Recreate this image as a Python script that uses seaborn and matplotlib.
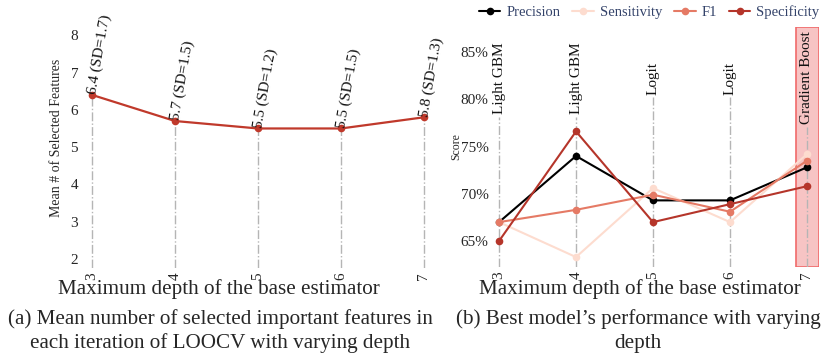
import matplotlib
matplotlib.use("Agg")
import matplotlib.pyplot as plt
import seaborn as sns
import pandas as pd

# ---- data ----
depths = [3, 4, 5, 6, 7]
mean_features = [6.4, 5.7, 5.5, 5.5, 5.8]
sd_features = [1.7, 1.5, 1.2, 1.5, 1.3]

best_models = ["Light GBM", "Light GBM", "Logit", "Logit", "Gradient Boost"]
precision = [67.0, 74.0, 69.3, 69.3, 72.8]
sensitivity = [67.0, 63.3, 70.6, 67.0, 74.2]
f1 = [67.0, 68.3, 69.9, 68.1, 73.5]
specificity = [65.0, 76.6, 67.0, 68.9, 70.8]
metric_names = ["Precision", "Sensitivity", "F1", "Specificity"]
score_ticks = [65, 70, 75, 80, 85]

sns.set_theme(style="white")
plt.rcParams["font.family"] = ["Liberation Serif", "DejaVu Serif"]

W, H = 829, 357
fig = plt.figure(figsize=(W / 100, H / 100), dpi=100)

def px_axes(left, top, right, bottom):
    return fig.add_axes([left / W, 1 - bottom / H, (right - left) / W, (bottom - top) / H])

grid_color = "#b5b5b5"
line_red = "#c0392b"

# ---- (a) mean number of selected features ----
ax1 = px_axes(83.7, 27, 432.3, 268)
df_a = pd.DataFrame({"depth": depths, "mean": mean_features})
ax1.set_xlim(2.9, 7.1)
ax1.set_ylim(1.76, 8.22)
ax1.vlines(depths, 1.76, mean_features, colors=grid_color, linestyles="-.", linewidth=1.0, zorder=1)
sns.lineplot(data=df_a, x="depth", y="mean", ax=ax1, color=line_red, linewidth=1.6,
             marker="o", markersize=5.5, markeredgewidth=0, zorder=3)
for d, m, s in zip(depths, mean_features, sd_features):
    ax1.text(d, m + 0.02, f"{m:.1f} (SD={s:.1f})", rotation=80, rotation_mode="anchor",
             ha="left", va="center", fontsize=11, color="#111111")
ax1.set_xticks(depths)
ax1.set_xticklabels([str(d) for d in depths], rotation=90, fontsize=11)
ax1.set_yticks([2, 3, 4, 5, 6, 7, 8])
ax1.tick_params(axis="both", length=0)
ax1.tick_params(axis="y", labelsize=11, pad=4)
ax1.tick_params(axis="x", pad=3)
ax1.set_xlabel("")
ax1.set_ylabel("Mean # of Selected Features", fontsize=10)
ax1.yaxis.set_label_coords(-0.059, 0.54)
sns.despine(ax=ax1, left=True, bottom=True)

# ---- (b) best model performance ----
ax2 = px_axes(489.8, 27, 819.3, 267)
df_b = pd.DataFrame({"depth": depths * 4,
                     "score": precision + sensitivity + f1 + specificity,
                     "metric": sum([[n] * len(depths) for n in metric_names], [])})
palette = {"Precision": "#000000", "Sensitivity": "#fddccf", "F1": "#e57a65", "Specificity": "#b5352a"}
ax2.set_xlim(2.88, 7.16)
ax2.set_ylim(62.25, 87.65)
ax2.axvspan(6.86, 7.16, facecolor="#f08a8a", alpha=0.5, edgecolor="none", zorder=0)
ax2.axvspan(6.86, 7.16, facecolor="none", edgecolor="#f06a6a", linewidth=1.2, zorder=0.5)
sns.lineplot(data=df_b, x="depth", y="score", hue="metric", hue_order=metric_names,
             palette=palette, ax=ax2, linewidth=1.5, marker="o", markersize=5.5,
             markeredgewidth=0, zorder=3)

label_y = 82.25
texts = []
for d, name in zip(depths, best_models):
    texts.append(ax2.text(d, label_y, name, rotation=90, ha="center", va="center",
                          fontsize=11, color="#111111"))
fig.canvas.draw()
renderer = fig.canvas.get_renderer()
inv = ax2.transData.inverted()
for d, t in zip(depths, texts):
    bb = t.get_window_extent(renderer)
    y_bottom = inv.transform((bb.x0, bb.y0))[1]
    ax2.vlines(d, 62.25, y_bottom - 0.3, colors=grid_color, linestyles="-.", linewidth=1.0, zorder=1)

ax2.set_xticks(depths)
ax2.set_xticklabels([str(d) for d in depths], rotation=90, fontsize=11)
ax2.set_yticks(score_ticks)
ax2.set_yticklabels([f"{v}%" for v in score_ticks], fontsize=11)
ax2.tick_params(axis="both", length=0)
ax2.tick_params(axis="y", pad=1)
ax2.tick_params(axis="x", pad=3)
ax2.set_xlabel("")
ax2.set_ylabel("Score", fontsize=8.5)
ax2.yaxis.set_label_coords(-0.085, 0.5)
sns.despine(ax=ax2, left=True, bottom=True)

handles, labels = ax2.get_legend_handles_labels()
ax2.get_legend().remove()
leg = fig.legend(handles, labels, loc="center", bbox_to_anchor=(649 / W, 1 - 12 / H), ncol=4,
                 frameon=False, fontsize=10.5, handlelength=1.5, handletextpad=0.4,
                 columnspacing=0.8, borderaxespad=0)
for t in leg.get_texts():
    t.set_color("#34436a")

# ---- axis titles and captions ----
fig.text(219 / W, 1 - 289 / H, "Maximum depth of the base estimator", ha="center", va="center", fontsize=15.2)
fig.text(640 / W, 1 - 289 / H, "Maximum depth of the base estimator", ha="center", va="center", fontsize=15.2)
fig.text(220 / W, 1 - 331 / H, "(a) Mean number of selected important features in\neach iteration of LOOCV with varying depth",
         ha="center", va="center", fontsize=15.2, linespacing=1.3)
fig.text(638 / W, 1 - 331 / H, "(b) Best model\u2019s performance with varying\ndepth",
         ha="center", va="center", fontsize=15.2, linespacing=1.3)

fig.savefig("out.png", dpi=100)
